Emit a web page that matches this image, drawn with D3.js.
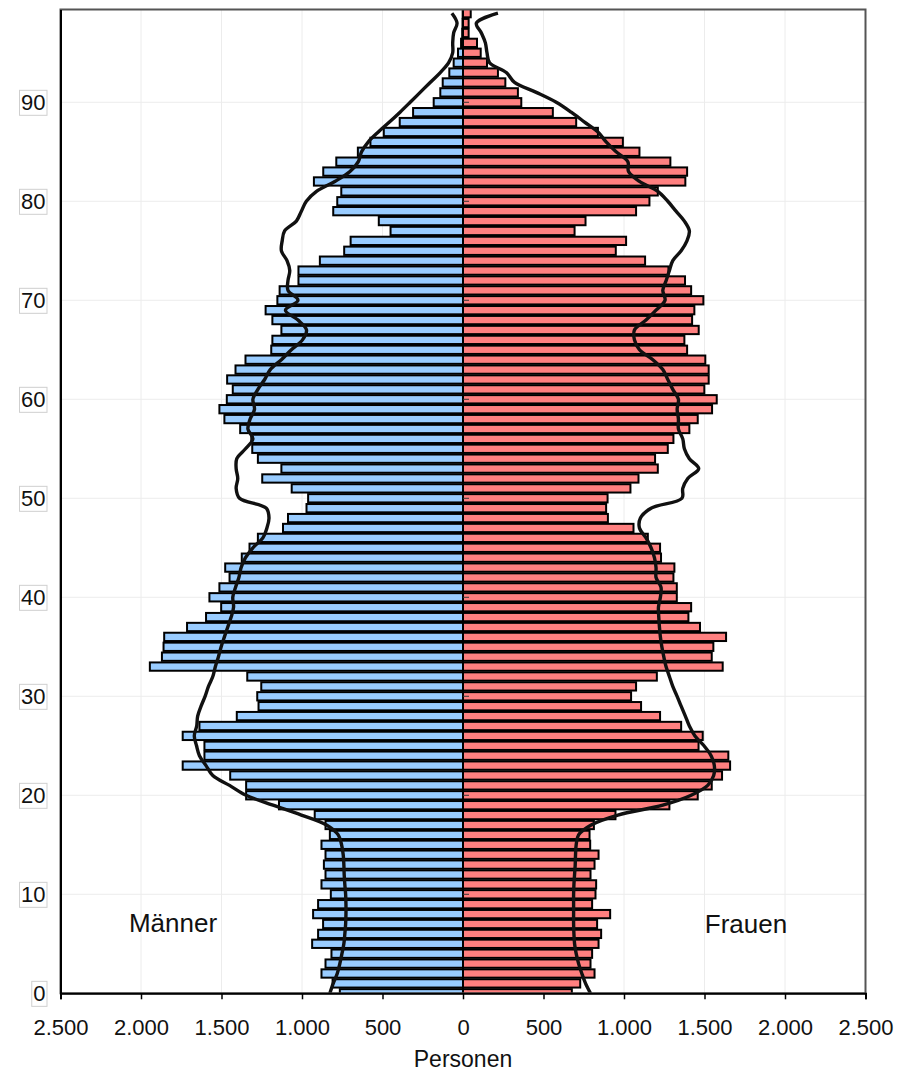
<!DOCTYPE html>
<html>
<head>
<meta charset="utf-8">
<script src="https://cdn.jsdelivr.net/npm/d3@7"></script>
<style>
  body { margin: 0; background: #fff; }
  text { font-family: "Liberation Sans", Arial, sans-serif; fill: #111; }
</style>
</head>
<body>
<div id="chart"></div>
<script>
// Data: persons per single year of age (0..99)
const ages = d3.range(0, 100);

const men = [
  765, 810, 879, 854, 817, 937, 900, 869, 931, 900,
  821, 879, 854, 864, 854, 879, 827, 854, 921, 1143,
  1347, 1347, 1446, 1741, 1606, 1606, 1741, 1637, 1405, 1270,
  1278, 1253, 1340, 1945, 1870, 1860, 1856, 1714, 1596, 1502,
  1575, 1513, 1450, 1477, 1374, 1326, 1274, 1118, 1087, 972,
  962, 1064, 1247, 1128, 1274, 1309, 1315, 1384, 1482, 1513,
  1467, 1430, 1465, 1413, 1351, 1191, 1184, 1128, 1184, 1226,
  1153, 1139, 1022, 1022, 889, 738, 698, 450, 523, 806,
  781, 756, 926, 868, 787, 653, 575, 492, 393, 310,
  182, 141, 126, 85, 58, 31, 12, 5, 3, 2
];

const women = [
  676, 728, 817, 792, 802, 842, 858, 833, 914, 802,
  823, 827, 792, 817, 842, 790, 786, 813, 947, 1282,
  1458, 1545, 1609, 1659, 1648, 1463, 1489, 1355, 1224, 1106,
  1044, 1075, 1204, 1613, 1545, 1555, 1634, 1472, 1400, 1417,
  1328, 1328, 1307, 1313, 1230, 1224, 1148, 1059, 900, 889,
  898, 1040, 1090, 1210, 1193, 1272, 1307, 1406, 1458, 1547,
  1576, 1499, 1526, 1526, 1505, 1392, 1375, 1464, 1423, 1437,
  1493, 1417, 1379, 1276, 1131, 949, 1013, 693, 761, 1075,
  1158, 1210, 1381, 1392, 1288, 1096, 993, 838, 703, 558,
  362, 341, 263, 217, 149, 110, 87, 35, 35, 48
];

// Comparison profile (lines)
const menRef = [
  827, 806, 781, 765, 752, 740, 734, 729, 727, 727,
  729, 734, 738, 740, 744, 754, 775, 848, 1004, 1180,
  1347, 1450, 1554, 1596, 1637, 1655, 1669, 1654, 1648, 1627,
  1602, 1581, 1554, 1538, 1519, 1502, 1482, 1461, 1440, 1425,
  1430, 1413, 1392, 1378, 1351, 1305, 1243, 1218, 1205, 1222,
  1388, 1409, 1399, 1409, 1405, 1351, 1305, 1336, 1322, 1295,
  1305, 1274, 1232, 1197, 1128, 1066, 997, 972, 1025, 1103,
  1025, 1087, 1087, 1076, 1093, 1128, 1123, 1108, 1035, 1004,
  973, 910, 796, 702, 650, 630, 588, 526, 457, 391,
  328, 266, 204, 141, 89, 64, 64, 58, 37, 69
];

const womenRef = [
  792, 761, 738, 718, 703, 693, 689, 687, 687, 687,
  687, 689, 693, 697, 699, 703, 718, 796, 962, 1241,
  1417, 1520, 1557, 1561, 1541, 1497, 1441, 1406, 1381, 1355,
  1330, 1303, 1282, 1261, 1247, 1235, 1226, 1220, 1216, 1214,
  1226, 1230, 1199, 1199, 1189, 1168, 1137, 1096, 1102, 1168,
  1360, 1365, 1396, 1464, 1406, 1375, 1365, 1338, 1338, 1330,
  1338, 1303, 1272, 1241, 1179, 1096, 1065, 1065, 1137, 1199,
  1255, 1241, 1262, 1282, 1303, 1355, 1391, 1406, 1375, 1323,
  1272, 1210, 1096, 1028, 1024, 951, 889, 838, 755, 672,
  579, 455, 320, 269, 165, 149, 139, 114, 83, 217
];

const xTicks = [-2500, -2000, -1500, -1000, -500, 0, 500, 1000, 1500, 2000, 2500];
const yTicks = [0, 10, 20, 30, 40, 50, 60, 70, 80, 90];

// Width and height
const WIDTH = 897;
const HEIGHT = 1073;
const LEFT = 60.5, RIGHT = 865.5, TOP = 9.5, BOTTOM = 993.3;

const svg = d3
  .select("#chart")
  .append("svg")
  .attr("width", WIDTH)
  .attr("height", HEIGHT);

const x = d3.scaleLinear().domain([-2500, 2500]).range([LEFT, RIGHT]);
const y = d3.scaleLinear().domain([0, 99.37]).range([BOTTOM, TOP]);
const step = y(0) - y(1);

const de = d3.formatLocale({ decimal: ",", thousands: ".", grouping: [3], currency: ["", " €"] });
const fmt = de.format(",");

svg.append("defs")
  .append("clipPath")
  .attr("id", "plot")
  .append("rect")
  .attr("x", LEFT)
  .attr("y", TOP)
  .attr("width", RIGHT - LEFT)
  .attr("height", BOTTOM - TOP);

// Grid
const grid = svg.append("g").attr("stroke", "#ececec").attr("stroke-width", 1);
grid.selectAll("line.v")
  .data(xTicks.filter((d) => d !== 0 && Math.abs(d) !== 2500))
  .enter()
  .append("line")
  .attr("x1", (d) => x(d))
  .attr("x2", (d) => x(d))
  .attr("y1", TOP)
  .attr("y2", BOTTOM);
grid.selectAll("line.h")
  .data(yTicks.filter((d) => d !== 0))
  .enter()
  .append("line")
  .attr("x1", LEFT)
  .attr("x2", RIGHT)
  .attr("y1", (d) => y(d))
  .attr("y2", (d) => y(d));

// Bars
const bars = svg.append("g").attr("clip-path", "url(#plot)");
const barH = step - 1.6;

bars.selectAll("rect.m")
  .data(ages)
  .enter()
  .append("rect")
  .attr("x", (a) => x(-men[a]))
  .attr("width", (a) => x(0) - x(-men[a]))
  .attr("y", (a) => y(a) - barH / 2)
  .attr("height", barH)
  .attr("fill", "#99ccff")
  .attr("stroke", "#000")
  .attr("stroke-width", 2);

bars.selectAll("rect.w")
  .data(ages)
  .enter()
  .append("rect")
  .attr("x", x(0))
  .attr("width", (a) => x(women[a]) - x(0))
  .attr("y", (a) => y(a) - barH / 2)
  .attr("height", barH)
  .attr("fill", "#ff8080")
  .attr("stroke", "#000")
  .attr("stroke-width", 2);

// small ticks on the centre line
bars.selectAll("line.c")
  .data(yTicks.filter((d) => d !== 0))
  .enter()
  .append("line")
  .attr("x1", x(0))
  .attr("x2", x(0) + 6)
  .attr("y1", (d) => y(d))
  .attr("y2", (d) => y(d))
  .attr("stroke", "#333")
  .attr("stroke-width", 1);

// Reference lines
const line = d3.line().curve(d3.curveCatmullRom);
bars.append("path")
  .attr("d", line(ages.map((a) => [x(-menRef[a]), y(a)])))
  .attr("fill", "none")
  .attr("stroke", "#111")
  .attr("stroke-width", 3.4);
bars.append("path")
  .attr("d", line(ages.map((a) => [x(womenRef[a]), y(a)])))
  .attr("fill", "none")
  .attr("stroke", "#111")
  .attr("stroke-width", 3.4);

// Frame
svg.append("rect")
  .attr("x", LEFT)
  .attr("y", TOP)
  .attr("width", RIGHT - LEFT)
  .attr("height", BOTTOM - TOP)
  .attr("fill", "none")
  .attr("stroke", "#555")
  .attr("stroke-width", 2);

// X axis
const xAxis = svg.append("g")
  .attr("transform", "translate(0," + BOTTOM + ")")
  .call(
    d3.axisBottom(x)
      .tickValues(xTicks)
      .tickFormat((d) => fmt(Math.abs(d)))
      .tickSize(6)
      .tickPadding(20)
  );
xAxis.select(".domain").attr("stroke", "#000").attr("stroke-width", 2);
xAxis.selectAll(".tick line").attr("stroke", "#000").attr("stroke-width", 1.5);
xAxis.selectAll("text")
  .attr("font-size", 22)
  .attr("font-family", '"Liberation Sans", Arial, sans-serif')
  .attr("fill", "#111");

// Y axis
const yAxis = svg.append("g")
  .attr("transform", "translate(" + LEFT + ",0)")
  .call(d3.axisLeft(y).tickValues(yTicks).tickSize(0).tickPadding(15));
yAxis.select(".domain").attr("stroke", "#000").attr("stroke-width", 2);
yAxis.selectAll("text")
  .attr("font-size", 22)
  .attr("font-family", '"Liberation Sans", Arial, sans-serif')
  .attr("fill", "#111");
yAxis.selectAll(".tick").each(function () {
  const t = d3.select(this).select("text");
  const b = t.node().getBBox();
  d3.select(this)
    .insert("rect", "text")
    .attr("x", b.x - 1.5)
    .attr("y", b.y + 0.5)
    .attr("width", b.width + 3)
    .attr("height", b.height)
    .attr("fill", "#fff")
    .attr("stroke", "#cfcfcf")
    .attr("stroke-width", 1);
});

// Labels
svg.append("text")
  .attr("x", x(0))
  .attr("y", 1067)
  .attr("text-anchor", "middle")
  .attr("font-size", 23)
  .text("Personen");

svg.append("text")
  .attr("x", 173)
  .attr("y", 932)
  .attr("text-anchor", "middle")
  .attr("font-size", 26)
  .text("Männer");

svg.append("text")
  .attr("x", 746)
  .attr("y", 933)
  .attr("text-anchor", "middle")
  .attr("font-size", 26)
  .text("Frauen");
</script>
</body>
</html>
